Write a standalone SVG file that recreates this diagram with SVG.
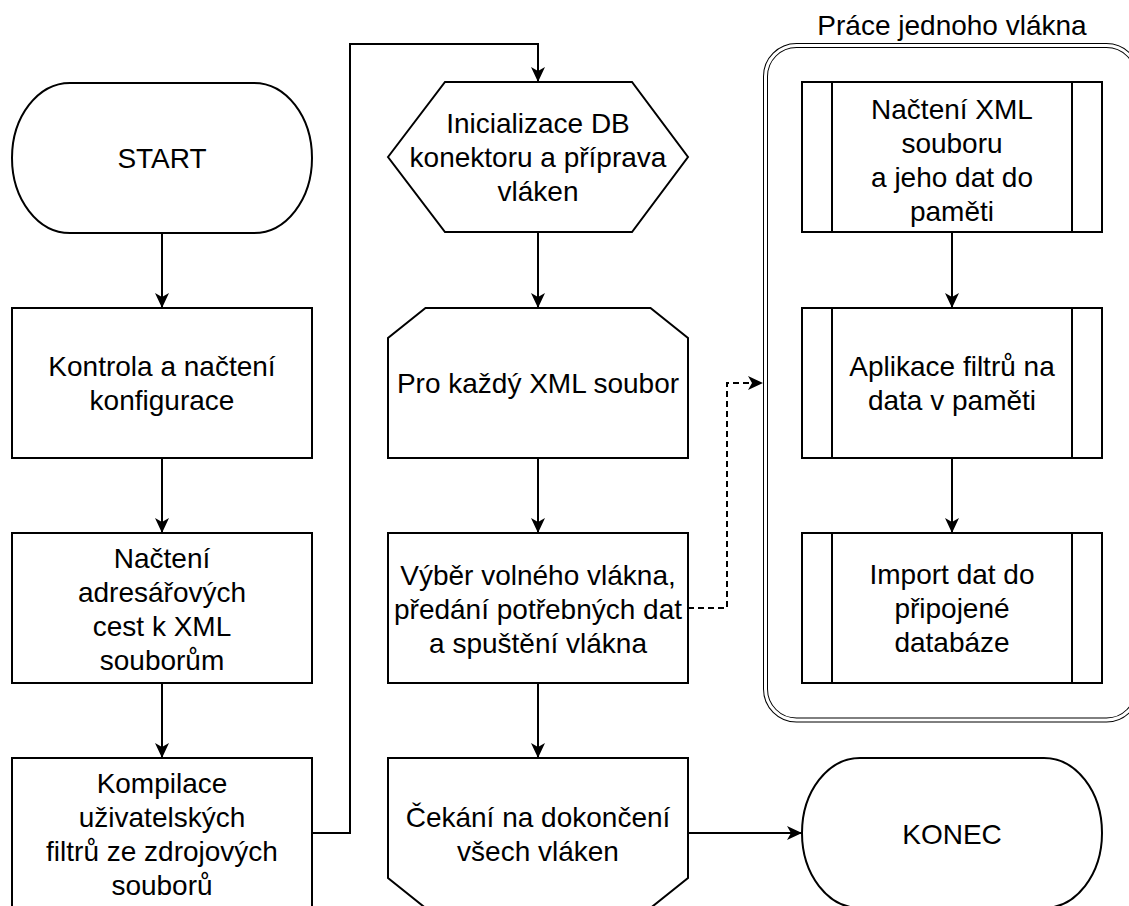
<svg xmlns="http://www.w3.org/2000/svg" width="1129" height="906" viewBox="0 0 1129 906">
<style>
.s{fill:#fff;stroke:#000;stroke-width:2}
.l{fill:none;stroke:#000;stroke-width:2}
.d{fill:none;stroke:#000;stroke-width:2;stroke-dasharray:6 4}
.t{font-family:"Liberation Sans",Arial,Helvetica,sans-serif;font-size:28px;fill:#000;text-anchor:middle}
</style>
<defs>
<marker id="a" viewBox="0 0 15 14" refX="15" refY="7" markerWidth="15" markerHeight="14" markerUnits="userSpaceOnUse" orient="auto">
<path d="M0,0 L15,7 L0,14 L4,7 Z" fill="#000"/>
</marker>
</defs>
<rect width="1129" height="906" fill="#fff"/>

<g id="container">
<rect x="765.5" y="45.5" width="372" height="674.5" rx="31" ry="31" fill="#fff" stroke="#000" stroke-width="5"/>
<rect x="765.5" y="45.5" width="372" height="674.5" rx="31" ry="31" fill="none" stroke="#fff" stroke-width="3"/>
<text class="t" x="952" y="35">Práce jednoho vlákna</text>
</g>

<g id="connectors">
<path class="l" d="M162,233 V308" marker-end="url(#a)"/>
<path class="l" d="M162,458 V533" marker-end="url(#a)"/>
<path class="l" d="M162,683 V758" marker-end="url(#a)"/>
<path class="l" d="M312,833 H350 V44 H538 V82" marker-end="url(#a)"/>
<path class="l" d="M538,232 V308" marker-end="url(#a)"/>
<path class="l" d="M538,458 V533" marker-end="url(#a)"/>
<path class="l" d="M538,683 V758" marker-end="url(#a)"/>
<path class="l" d="M688,833 H802" marker-end="url(#a)"/>
<path class="d" d="M688,608 H727 V383 H763" marker-end="url(#a)"/>
<path class="l" d="M952,232 V308" marker-end="url(#a)"/>
<path class="l" d="M952,458 V533" marker-end="url(#a)"/>
</g>

<g id="start">
<rect class="s" x="12" y="83" width="300" height="150" rx="58" ry="75"/>
<text class="t" x="162" y="168">START</text>
</g>

<g id="kontrola">
<rect class="s" x="12" y="308" width="300" height="150"/>
<text class="t" x="162" y="376">Kontrola a načtení</text>
<text class="t" x="162" y="410">konfigurace</text>
</g>

<g id="nacteni-cest">
<rect class="s" x="12" y="533" width="300" height="150"/>
<text class="t" x="162" y="567.5">Načtení</text>
<text class="t" x="162" y="601.5">adresářových</text>
<text class="t" x="162" y="635.5">cest k XML</text>
<text class="t" x="162" y="669.5">souborům</text>
</g>

<g id="kompilace">
<rect class="s" x="12" y="758" width="300" height="150"/>
<text class="t" x="162" y="793">Kompilace</text>
<text class="t" x="162" y="827">uživatelských</text>
<text class="t" x="162" y="861">filtrů ze zdrojových</text>
<text class="t" x="162" y="895">souborů</text>
</g>

<g id="inicializace">
<polygon class="s" points="388,157 445,82 632,82 688,157 632,232 445,232"/>
<text class="t" x="538" y="133">Inicializace DB</text>
<text class="t" x="538" y="167">konektoru a příprava</text>
<text class="t" x="538" y="201">vláken</text>
</g>

<g id="pro-kazdy">
<polygon class="s" points="425.5,308 650.5,308 688,338 688,458 388,458 388,338"/>
<text class="t" x="538" y="393">Pro každý XML soubor</text>
</g>

<g id="vyber">
<rect class="s" x="388" y="533" width="300" height="150"/>
<text class="t" x="538" y="585">Výběr volného vlákna,</text>
<text class="t" x="538" y="619">předání potřebných dat</text>
<text class="t" x="538" y="653">a spuštění vlákna</text>
</g>

<g id="cekani">
<polygon class="s" points="388,758 688,758 688,878 650.5,908 425.5,908 388,878"/>
<text class="t" x="538" y="827">Čekání na dokončení</text>
<text class="t" x="538" y="861">všech vláken</text>
</g>

<g id="konec">
<rect class="s" x="802" y="758" width="300" height="150" rx="58" ry="75"/>
<text class="t" x="952" y="844">KONEC</text>
</g>

<g id="nacteni-xml">
<rect class="s" x="802" y="82" width="300" height="150"/>
<line class="l" x1="832" y1="82" x2="832" y2="232"/>
<line class="l" x1="1072" y1="82" x2="1072" y2="232"/>
<text class="t" x="952" y="119">Načtení XML</text>
<text class="t" x="952" y="153">souboru</text>
<text class="t" x="952" y="187">a jeho dat do</text>
<text class="t" x="952" y="221">paměti</text>
</g>

<g id="aplikace">
<rect class="s" x="802" y="308" width="300" height="150"/>
<line class="l" x1="832" y1="308" x2="832" y2="458"/>
<line class="l" x1="1072" y1="308" x2="1072" y2="458"/>
<text class="t" x="952" y="376">Aplikace filtrů na</text>
<text class="t" x="952" y="410">data v paměti</text>
</g>

<g id="import">
<rect class="s" x="802" y="533" width="300" height="150"/>
<line class="l" x1="832" y1="533" x2="832" y2="683"/>
<line class="l" x1="1072" y1="533" x2="1072" y2="683"/>
<text class="t" x="952" y="584">Import dat do</text>
<text class="t" x="952" y="618">připojené</text>
<text class="t" x="952" y="652">databáze</text>
</g>
</svg>
